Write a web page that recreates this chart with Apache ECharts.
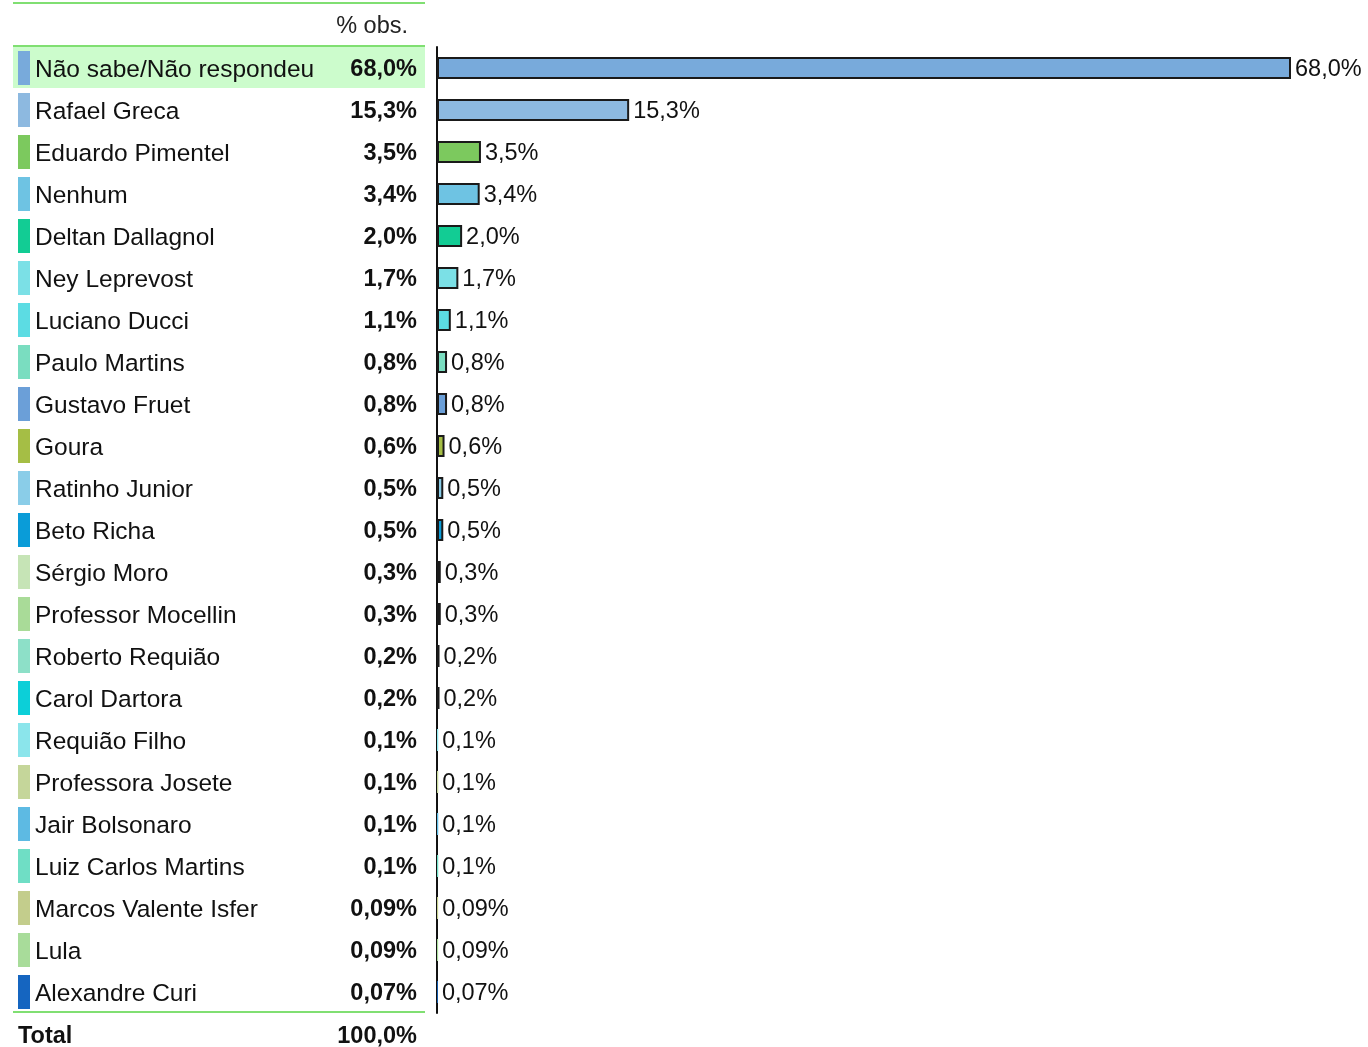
<!DOCTYPE html>
<html>
<head>
<meta charset="utf-8">
<script src="https://cdn.jsdelivr.net/npm/echarts@6/dist/echarts.min.js"></script>
<style>
    html, body { margin: 0; padding: 0; background: #fff; }
    #chart { width: 1368px; height: 1047px; }
</style>
</head>
<body>
<div id="chart"></div>
<script>
    // dados
    var categories = ['Não sabe/Não respondeu', 'Rafael Greca', 'Eduardo Pimentel', 'Nenhum', 'Deltan Dallagnol',
        'Ney Leprevost', 'Luciano Ducci', 'Paulo Martins', 'Gustavo Fruet', 'Goura', 'Ratinho Junior', 'Beto Richa',
        'Sérgio Moro', 'Professor Mocellin', 'Roberto Requião', 'Carol Dartora', 'Requião Filho', 'Professora Josete',
        'Jair Bolsonaro', 'Luiz Carlos Martins', 'Marcos Valente Isfer', 'Lula', 'Alexandre Curi'];
    var values = [68.0, 15.3, 3.5, 3.4, 2.0, 1.7, 1.1, 0.8, 0.8, 0.6, 0.5, 0.5,
        0.3, 0.3, 0.2, 0.2, 0.1, 0.1, 0.1, 0.1, 0.09, 0.09, 0.07];
    var valueLabels = ['68,0%', '15,3%', '3,5%', '3,4%', '2,0%', '1,7%', '1,1%', '0,8%', '0,8%', '0,6%', '0,5%', '0,5%',
        '0,3%', '0,3%', '0,2%', '0,2%', '0,1%', '0,1%', '0,1%', '0,1%', '0,09%', '0,09%', '0,07%'];
    var colors = ['#78aadb', '#8db9e0', '#7cc95e', '#6ec3e3', '#12cc94', '#7be0e6', '#5cdce3', '#7addc0',
        '#6b9fd8', '#a5be45', '#8acde8', '#0a9cd8', '#c6e4b6', '#a9db98', '#8de0c8', '#0ccfd8',
        '#8be5eb', '#c5d69a', '#5dbae3', '#6fdec5', '#c3cd8c', '#a8dc9a', '#1565c0'];
    var headerLabel = '% obs.';
    var totalLabel = 'Total';
    var totalValue = '100,0%';

    var FONT = '"Liberation Sans", Arial, sans-serif';
    var GREEN = '#80df72';

    // estilos rich das marcas coloridas
    var rich = {
        s: { width: 5 },
        n: { width: 295, fontSize: 24.5, fontFamily: FONT, color: '#111', padding: [4, 0, 0, 0] },
        v: { width: 87, align: 'right', fontSize: 23.5, fontWeight: 'bold', fontFamily: FONT, color: '#111', padding: [4, 0, 0, 0] }
    };
    colors.forEach(function (c, i) {
        rich['m' + i] = { width: 12, height: 34, backgroundColor: c };
    });

    var myChart = echarts.init(document.getElementById('chart'));

    myChart.setOption({
        animation: false,
        backgroundColor: '#fff',
        grid: { left: 437, right: 77, top: 47, bottom: 34 },
        xAxis: { type: 'value', min: 0, max: 'dataMax', show: false },
        yAxis: {
            type: 'category',
            data: categories,
            inverse: true,
            axisLine: { lineStyle: { color: '#111', width: 2 } },
            axisTick: { show: false },
            splitLine: { show: false },
            axisLabel: {
                margin: 419,
                align: 'left',
                formatter: function (val, idx) {
                    return '{m' + idx + '|}{s|}{n|' + val + '}{v|' + valueLabels[idx] + '}';
                },
                rich: rich
            }
        },
        series: [{
            type: 'bar',
            barWidth: 22,
            data: values.map(function (v, i) {
                return {
                    value: v,
                    itemStyle: { color: colors[i], borderColor: '#1a1a1a', borderWidth: v < 0.15 ? 0 : 2 }
                };
            }),
            label: {
                show: true,
                position: 'right',
                distance: 4,
                offset: [0, 2],
                fontSize: 23.5,
                fontFamily: FONT,
                color: '#111',
                formatter: function (p) { return valueLabels[p.dataIndex]; }
            }
        }],
        graphic: [
            { type: 'rect', z: -1, shape: { x: 13, y: 47, width: 412, height: 41 }, style: { fill: '#ccfccc' } },
            { type: 'line', shape: { x1: 13, y1: 3, x2: 425, y2: 3 }, style: { stroke: GREEN, lineWidth: 2 } },
            { type: 'line', shape: { x1: 13, y1: 46, x2: 425, y2: 46 }, style: { stroke: GREEN, lineWidth: 2 } },
            { type: 'line', shape: { x1: 13, y1: 1012, x2: 425, y2: 1012 }, style: { stroke: GREEN, lineWidth: 2 } },
            { type: 'text', x: 408, y: 27, style: { text: headerLabel, align: 'right', verticalAlign: 'middle', font: '23.5px ' + FONT, fill: '#222' } },
            { type: 'text', x: 18, y: 1037, style: { text: totalLabel, align: 'left', verticalAlign: 'middle', font: 'bold 23.5px ' + FONT, fill: '#111' } },
            { type: 'text', x: 417, y: 1037, style: { text: totalValue, align: 'right', verticalAlign: 'middle', font: 'bold 23.5px ' + FONT, fill: '#111' } }
        ]
    });
</script>
</body>
</html>
